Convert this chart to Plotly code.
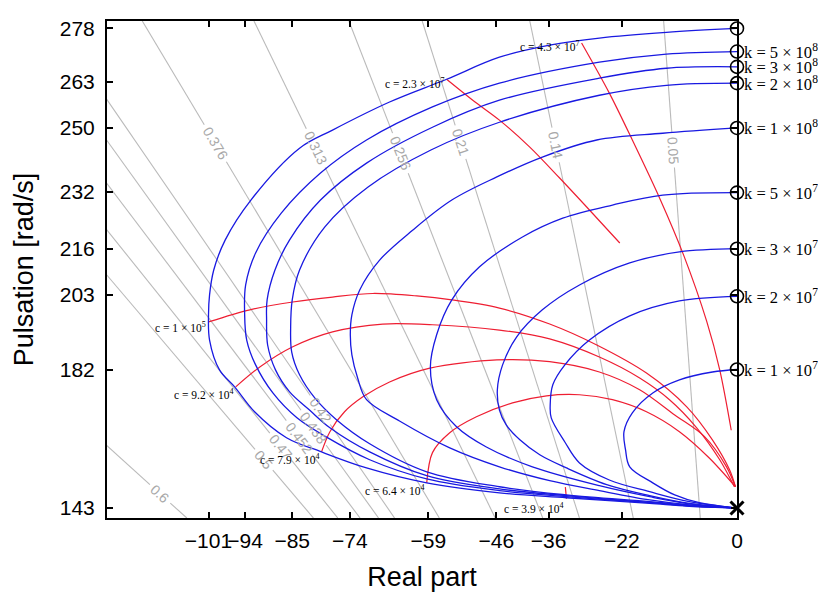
import math
import plotly.graph_objects as go

# ---------------- axes ----------------
x_range = [-120.4, 0.0]
y_range = [140.2, 280.1]
x_tick_vals = [-101, -94, -85, -74, -59, -46, -36, -22, 0]
x_tick_text = ["\u2212101", "\u221294", "\u221285", "\u221274", "\u221259", "\u221246", "\u221236", "\u221222", "0"]
y_tick_vals = [143, 182, 203, 216, 232, 250, 263, 278]

# ---------------- blue loci (constant k) ----------------
re_k1 = [0, -13.5, -26.3, -35.8, -45.4, -55.5, -66.4, -77.3, -83.6, -92.9, -97.8, -100.0, -100.8, -101.0, -100.8, -98.9, -96.0, -92.2, -86.1, -79.4, -70.8, -59.3, -45.4, -32.6, -16.7, -9.1, 0]
im_k1 = [278.0, 276.9, 275.3, 273.3, 269.9, 263.7, 257.3, 249.4, 244.3, 229.7, 218.5, 210.0, 203.0, 197.4, 190.3, 181.9, 177.1, 170.1, 162.8, 158.8, 154.3, 150.1, 147.3, 145.9, 144.3, 143.5, 143.0]

re_k2 = [0, -13.5, -26.3, -45.4, -58.2, -70.8, -79.6, -87.1, -92.0, -93.9, -94.1, -93.7, -92.0, -88.7, -84.1, -78.6, -70.2, -59.3, -45.4, -32.6, -16.7, -9.1, 0]
im_k2 = [271.5, 270.8, 268.5, 262.6, 255.9, 246.6, 237.3, 226.0, 214.8, 205.8, 197.9, 190.3, 183.3, 175.4, 168.4, 163.1, 156.6, 151.2, 147.9, 146.2, 144.5, 143.6, 143.0]

re_k3 = [0, -13.5, -26.3, -45.4, -58.2, -70.8, -79.6, -85.5, -88.3, -89.8, -89.9, -89.7, -88.2, -85.5, -81.7, -77.8, -70.2, -59.3, -45.4, -32.6, -16.7, -9.1, 0]
im_k3 = [267.2, 266.8, 264.0, 257.8, 250.2, 240.1, 229.7, 218.5, 210.0, 201.6, 196.0, 188.9, 181.9, 175.7, 170.6, 165.6, 158.8, 152.1, 148.4, 146.5, 144.6, 143.6, 143.0]

re_k4 = [0, -13.5, -26.3, -45.4, -58.5, -70.5, -78.8, -83.6, -85.0, -85.3, -85.1, -83.6, -80.7, -76.5, -70.2, -59.3, -45.4, -32.6, -16.7, -9.1, 0]
im_k4 = [262.6, 262.0, 259.2, 251.6, 243.8, 233.4, 222.1, 210.0, 201.6, 194.0, 186.9, 180.5, 174.0, 167.8, 161.1, 153.2, 149.0, 146.7, 144.8, 143.8, 143.0]

re_k5 = [0, -14.2, -26.8, -37.2, -45.9, -54.5, -62.0, -68.3, -72.1, -73.6, -73.9, -73.6, -72.5, -70.8, -64.5, -55.0, -45.4, -35.8, -26.3, -16.7, -9.1, 0]
im_k5 = [250.0, 248.5, 246.6, 241.8, 236.2, 229.7, 221.2, 212.8, 204.4, 197.4, 191.8, 186.1, 179.6, 173.5, 167.5, 160.0, 154.6, 150.7, 147.9, 145.3, 143.9, 143.0]

re_k6 = [0, -14.2, -23.8, -33.3, -41.0, -49.2, -54.5, -57.4, -58.6, -57.4, -53.6, -47.9, -39.1, -26.3, -16.7, -9.1, 0]
im_k6 = [231.8, 231.1, 228.3, 224.6, 219.3, 210.9, 201.6, 191.8, 182.7, 173.5, 165.9, 160.2, 154.6, 149.3, 146.2, 144.2, 143.0]

re_k7 = [0, -11.0, -20.5, -30.1, -37.2, -42.1, -44.8, -45.8, -45.4, -44.1, -41.5, -37.7, -32.6, -24.9, -16.7, -9.1, 0]
im_k7 = [216.0, 215.1, 212.0, 205.8, 198.8, 191.2, 183.3, 176.3, 170.6, 166.4, 162.2, 158.0, 154.3, 149.6, 146.5, 144.3, 143.0]

re_k8 = [0, -11.0, -20.5, -28.2, -32.9, -35.2, -35.7, -35.5, -32.9, -30.1, -24.4, -16.7, -9.1, 0]
im_k8 = [202.6, 201.3, 197.1, 190.3, 183.3, 177.7, 172.0, 168.4, 161.6, 155.7, 150.9, 147.6, 144.8, 143.0]

re_k9 = [0, -4.7, -11.0, -16.1, -20.0, -21.6, -21.3, -20.5, -16.1, -11.9, -7.2, 0]
im_k9 = [182.0, 181.3, 179.1, 175.4, 169.8, 164.5, 159.4, 154.6, 150.1, 146.7, 144.5, 143.0]

k_start_im = [278.0, 271.5, 267.2, 262.6, 250.0, 231.8, 216.0, 202.6, 182.0]
k_labels = ["", "k = 5 \u00d7 10<sup>8</sup>", "k = 3 \u00d7 10<sup>8</sup>", "k = 2 \u00d7 10<sup>8</sup>",
            "k = 1 \u00d7 10<sup>8</sup>", "k = 5 \u00d7 10<sup>7</sup>", "k = 3 \u00d7 10<sup>7</sup>",
            "k = 2 \u00d7 10<sup>7</sup>", "k = 1 \u00d7 10<sup>7</sup>"]
open_loop_pole = [0.0, 143.0]

# ---------------- red loci (constant c) ----------------
re_c1 = [-101.0, -93.1, -84.9, -77.3, -69.6, -61.2, -54.5, -45.4, -35.8, -26.8, -17.3, -9.6, -4.7, -1.4, -0.3]
im_c1 = [195.4, 198.8, 201.0, 202.4, 203.4, 202.7, 201.6, 199.3, 194.8, 188.9, 181.0, 171.5, 162.2, 153.7, 149.0]
re_c2 = [-95.8, -91.2, -84.9, -77.3, -67.7, -58.2, -45.4, -35.8, -26.3, -18.6, -12.9, -7.7, -3.3, -0.5]
im_c2 = [177.1, 182.7, 188.4, 192.6, 194.8, 194.6, 193.1, 190.6, 185.5, 179.6, 173.5, 165.6, 156.6, 149.0]
re_c3 = [-79.4, -77.8, -75.0, -71.5, -66.4, -58.7, -45.9, -35.8, -26.3, -18.6, -11.9, -6.2, -2.0, -0.3]
im_c3 = [158.8, 164.5, 170.1, 174.3, 178.5, 182.4, 184.7, 184.2, 181.3, 176.3, 169.2, 163.1, 154.6, 149.0]
re_c4 = [-59.3, -58.2, -54.9, -49.8, -42.9, -36.4, -30.1, -23.8, -17.3, -11.0, -5.3, -0.3]
im_c4 = [150.1, 158.6, 164.2, 168.7, 172.6, 174.6, 174.9, 173.5, 170.1, 164.5, 157.1, 149.0]
re_c5 = [-32.6, -32.8]
im_c5 = [145.6, 148.9]
re_c6 = [-29.7, -24.4, -20.0, -14.8, -10.2, -5.8, -3.3, -1.1]
im_c6 = [273.9, 259.8, 246.6, 230.3, 214.2, 195.6, 181.9, 164.9]
re_c7 = [-55.5, -50.5, -45.4, -39.6, -33.9, -28.2, -22.4]
im_c7 = [263.7, 257.8, 252.2, 244.6, 235.9, 226.9, 217.6]

c_labels = ["c = 1 \u00d7 10<sup>5</sup>", "c = 9.2 \u00d7 10<sup>4</sup>", "c = 7.9 \u00d7 10<sup>4</sup>",
            "c = 6.4 \u00d7 10<sup>4</sup>", "c = 3.9 \u00d7 10<sup>4</sup>", "c = 4.3 \u00d7 10<sup>7</sup>",
            "c = 2.3 \u00d7 10<sup>7</sup>"]

# ---------------- constant damping lines ----------------
zeta_values = [0.376, 0.313, 0.256, 0.21, 0.14, 0.05, 0.423, 0.439, 0.457, 0.478, 0.5, 0.6]
zeta_texts = ["0.376", "0.313", "0.256", "0.21", "0.14", "0.05", "0.42", "0.438", "0.452", "0.47", "0.5", "0.6"]
zeta_label_im = [245.7, 244.3, 242.9, 246.0, 245.2, 243.8, 170.6, 165.6, 162.8, 160.2, 156.6, 147.0]

# ---------------- figure ----------------
# the page body has an 8 px default margin, so the margins below compensate
W, H = 826, 595
ML, MR, MT, MB = 99, 97, 13, 85
sx = (W - ML - MR) / (x_range[1] - x_range[0])
sy = (H - MT - MB) / (y_range[1] - y_range[0])

fig = go.Figure()

GRAY = "#bababa"
ZFS = 14
gx, gy = [], []
ann = []
for z, txt, wl in zip(zeta_values, zeta_texts, zeta_label_im):
    r = z / math.sqrt(1 - z * z)
    L = math.hypot(r * sx, sy)
    txt_w = sum(0.278 if ch == "." else 0.556 for ch in txt) * ZFS
    dw = (txt_w / 2.0 + 4) / L
    for a, b in ((y_range[0], wl - dw), (wl + dw, y_range[1])):
        gx += [-r * a, -r * b, None]
        gy += [a, b, None]
    ang = math.degrees(math.atan2(sy, r * sx))
    ann.append(dict(x=-r * wl, y=wl, text=txt, showarrow=False, textangle=ang,
                    xanchor="center", yanchor="middle",
                    font=dict(family="Liberation Sans", size=ZFS, color="#a8a8a8")))

fig.add_trace(go.Scatter(x=gx, y=gy, mode="lines", line=dict(color=GRAY, width=1.1),
                         hoverinfo="skip", showlegend=False))

BLUE = "rgb(25,25,225)"
RED = "rgb(238,30,50)"
blue_curves = [(re_k1, im_k1), (re_k2, im_k2), (re_k3, im_k3), (re_k4, im_k4), (re_k5, im_k5),
               (re_k6, im_k6), (re_k7, im_k7), (re_k8, im_k8), (re_k9, im_k9)]
red_curves = [(re_c1, im_c1), (re_c2, im_c2), (re_c3, im_c3), (re_c4, im_c4), (re_c5, im_c5),
              (re_c6, im_c6), (re_c7, im_c7)]

for xs, ys in red_curves:
    fig.add_trace(go.Scatter(x=xs, y=ys, mode="lines",
                             line=dict(color=RED, width=1.2, shape="spline", smoothing=0.9),
                             showlegend=False))
for xs, ys in blue_curves:
    fig.add_trace(go.Scatter(x=xs, y=ys, mode="lines",
                             line=dict(color=BLUE, width=1.3, shape="spline", smoothing=1.0),
                             showlegend=False))

fig.add_trace(go.Scatter(x=[0] * len(k_start_im), y=k_start_im, mode="markers", cliponaxis=False,
                         marker=dict(symbol="circle-open", size=13, color="black",
                                     line=dict(color="black", width=1.6)),
                         showlegend=False))
fig.add_trace(go.Scatter(x=[open_loop_pole[0]], y=[open_loop_pole[1]], mode="markers", cliponaxis=False,
                         marker=dict(symbol="x-thin", size=13, color="black",
                                     line=dict(color="black", width=3)),
                         showlegend=False))

for yk, lab in zip(k_start_im, k_labels):
    if lab:
        ann.append(dict(x=0, y=yk, text=lab, showarrow=False, xanchor="left", yanchor="middle",
                        xshift=5, font=dict(family="Liberation Serif", size=16.5, color="black")))

c_yshift = [-5, -7, -7, -7, -9, -3, -4]
for (xs, ys), lab, ysh in zip(red_curves, c_labels, c_yshift):
    ann.append(dict(x=xs[0], y=ys[0], text=lab, showarrow=False, xanchor="right", yanchor="middle",
                    xshift=-1, yshift=ysh,
                    font=dict(family="Liberation Serif", size=11.5, color="black")))

axis_font = dict(family="Liberation Sans", size=21, color="black")
fig.update_layout(
    width=W, height=H, margin=dict(l=ML, r=MR, t=MT, b=MB, autoexpand=False),
    paper_bgcolor="white", plot_bgcolor="white",
    annotations=ann,
    xaxis=dict(range=x_range, tickvals=x_tick_vals, ticktext=x_tick_text, ticks="inside",
               ticklen=6, tickwidth=1.5, tickcolor="black", showline=True, linewidth=2,
               linecolor="black", mirror="ticks", showgrid=False, zeroline=False,
               tickfont=axis_font, tickangle=0, automargin=False, ticklabelstandoff=3,
               title=dict(text="Real part", font=dict(family="Liberation Sans", size=27, color="black"),
                          standoff=16)),
    yaxis=dict(range=y_range, tickvals=y_tick_vals, ticks="inside",
               ticklen=6, tickwidth=1.5, tickcolor="black", showline=True, linewidth=2,
               linecolor="black", mirror="ticks", showgrid=False, zeroline=False,
               tickfont=axis_font, automargin=False, ticklabelstandoff=6,
               title=dict(text="Pulsation [rad/s]", font=dict(family="Liberation Sans", size=27, color="black"),
                          standoff=18)),
)

fig.write_html("out.html")
